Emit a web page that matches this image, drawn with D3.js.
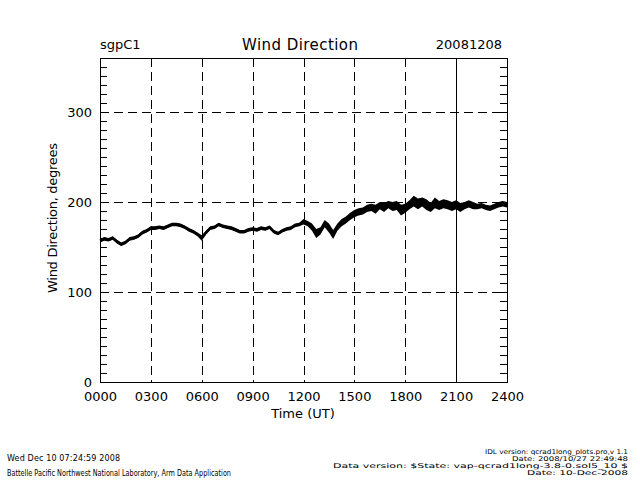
<!DOCTYPE html>
<html>
<head>
<meta charset="utf-8">
<script src="https://cdn.jsdelivr.net/npm/d3@7"></script>
<style>
  html, body { margin: 0; padding: 0; background: #fff; overflow: hidden; }
  svg { display: block; }
  svg text { font-family: "DejaVu Sans", sans-serif; fill: #000; }
  .axis path, .axis line { stroke: #000; shape-rendering: crispEdges; }
  .axis .domain { stroke-width: 1.2; }
</style>
</head>
<body>
<div id="chart"></div>
<script>
// time of day in hours (UT)
const hours = d3.range(0, 24.01, 0.25);

// wind direction, degrees, every quarter hour
const direction = [
  157, 159, 158, 160, 156, 153, 155, 159, 160, 162, 166, 168,
  171, 171, 172, 171, 173, 175, 175, 174, 172, 169, 167, 164,
  160, 166, 171, 172, 175, 173, 172, 171, 169, 167, 167, 169,
  170, 169, 171, 170, 172, 167, 165, 168, 170, 171, 174, 175,
  178, 176, 172, 165, 168, 176, 171, 164, 172, 177, 180, 184,
  187, 189, 190, 193, 194, 192, 196, 194, 197, 195, 196, 191,
  193, 197, 201, 198, 200, 197, 194, 199, 196, 198, 197, 195,
  197, 194, 196, 198, 196, 195, 196, 194, 193, 195, 197, 198,
  197
];

// half-width of the scattered band around the trace, degrees
const spread = [
  2, 2, 2, 2, 2, 2, 2, 2, 2, 2, 2, 2,
  2, 2, 2, 2, 2, 2, 2, 2, 2, 2, 2, 2,
  3, 2, 2, 2, 2, 2, 2, 2, 2, 2, 2, 2,
  2, 2, 2, 2, 2, 2, 2, 2, 2, 2, 2, 2,
  3, 3, 4, 5, 4, 4, 5, 5, 4, 4, 4, 4,
  4, 4, 4, 4, 4, 5, 4, 5, 4, 5, 5, 6,
  5, 5, 6, 6, 5, 6, 5, 6, 5, 5, 5, 5,
  5, 5, 4, 4, 4, 3, 3, 3, 3, 3, 3, 3,
  3
];

const xTicks = [0, 3, 6, 9, 12, 15, 18, 21, 24];
const yTicks = [0, 100, 200, 300];
const yGrid = [100, 200, 300];
const dashedX = [3, 6, 9, 12, 15, 18];
const solidX = [21];

const margin = {top: 58, left: 100},
      innerWidth = 407,
      innerHeight = 324;

const svg = d3.select('#chart').append('svg')
  .attr('width', 640)
  .attr('height', 480);

const plot = svg.append('g')
  .attr('transform', `translate(${margin.left},${margin.top})`);

const x = d3.scaleLinear().domain([0, 24]).range([0, innerWidth]);
const y = d3.scaleLinear().domain([0, 360]).range([innerHeight, 0]);

// grid
plot.selectAll('.vgrid')
  .data(dashedX)
  .enter().append('line')
    .attr('x1', d => Math.round(x(d)) + 0.5).attr('x2', d => Math.round(x(d)) + 0.5)
    .attr('y1', 0).attr('y2', innerHeight)
    .style('stroke', '#000').style('stroke-dasharray', '9,5');

plot.selectAll('.sgrid')
  .data(solidX)
  .enter().append('line')
    .attr('x1', d => Math.round(x(d)) + 0.5).attr('x2', d => Math.round(x(d)) + 0.5)
    .attr('y1', 0).attr('y2', innerHeight)
    .style('stroke', '#000');

plot.selectAll('.hgrid')
  .data(yGrid)
  .enter().append('line')
    .attr('x1', 0).attr('x2', innerWidth - 4)
    .attr('y1', d => Math.round(y(d)) + 0.5).attr('y2', d => Math.round(y(d)) + 0.5)
    .style('stroke', '#000').style('stroke-dasharray', '9,5');

// axes: minor ticks every 10 degrees, labels on the hundreds
const minor = d3.range(0, 361, 10);

plot.append('g').classed('axis', true)
  .call(d3.axisLeft(y).tickValues(minor).tickSize(-7))
  .call(g => g.selectAll('text').remove());

plot.append('g').classed('axis', true)
  .call(d3.axisLeft(y).tickValues(yTicks).tickSize(0).tickPadding(8))
  .call(g => g.select('.domain').remove())
  .call(g => g.selectAll('text').style('font-size', '13px'));

plot.append('g').classed('axis', true)
  .attr('transform', `translate(${innerWidth},0)`)
  .call(d3.axisRight(y).tickValues(minor).tickSize(-7))
  .call(g => g.selectAll('text').remove());

plot.append('g').classed('axis', true)
  .attr('transform', `translate(0,${innerHeight})`)
  .call(d3.axisBottom(x).tickValues(xTicks).tickSize(0).tickPadding(10)
    .tickFormat(d => d3.format('02')(d) + '00'))
  .call(g => g.selectAll('text').style('font-size', '13px'));

plot.append('line')
  .attr('x1', 0).attr('x2', innerWidth).attr('y1', 0.5).attr('y2', 0.5)
  .style('stroke', '#000').style('stroke-width', 1.2);

// data band and trace
const pts = hours.map((h, i) => ({h: h, v: direction[i], s: spread[i]}));

plot.append('path')
  .datum(pts)
  .attr('d', d3.area().x(d => x(d.h)).y0(d => y(d.v - d.s)).y1(d => y(d.v + d.s)))
  .style('fill', '#000');

plot.append('path')
  .datum(pts)
  .attr('d', d3.line().x(d => x(d.h)).y(d => y(d.v)))
  .style('fill', 'none').style('stroke', '#000').style('stroke-width', 2.5);

// titles
svg.append('text').text('sgpC1')
  .attr('x', 100).attr('y', 49).style('font-size', '13px');
svg.append('text').text('Wind Direction')
  .attr('x', 300).attr('y', 50).attr('text-anchor', 'middle')
  .attr('textLength', 116).style('font-size', '15px');
svg.append('text').text('20081208')
  .attr('x', 502).attr('y', 49).attr('text-anchor', 'end').style('font-size', '13px');

svg.append('text').text('Time (UT)')
  .attr('x', 303).attr('y', 418).attr('text-anchor', 'middle').style('font-size', '13px');

svg.append('text').text('Wind Direction, degrees')
  .attr('transform', 'translate(57,218) rotate(-90)')
  .attr('text-anchor', 'middle')
  .attr('textLength', 150).style('font-size', '13px');

// footer
const footLeft = ['Wed Dec 10 07:24:59 2008',
  'Battelle Pacific Northwest National Laboratory, Arm Data Application'];
const footRight = ['IDL version: qcrad1long_plots.pro,v 1.1',
  'Date: 2008/10/27 22:49:48',
  'Data version: $State: vap-qcrad1long-3.8-0.sol5_10 $',
  'Date: 10-Dec-2008'];

svg.append('text').text(footLeft[0])
  .attr('x', 7).attr('y', 461).attr('textLength', 113).style('font-size', '8px');
svg.append('text').text(footLeft[1])
  .attr('x', 7).attr('y', 476).attr('textLength', 224)
  .attr('lengthAdjust', 'spacingAndGlyphs').style('font-size', '8px');

const rightY = [454, 461, 468, 475];
const rightLen = [143, 116, 295, 101];
footRight.forEach((t, i) => {
  svg.append('text').text(t)
    .attr('x', 628).attr('y', rightY[i]).attr('text-anchor', 'end')
    .attr('textLength', rightLen[i]).attr('lengthAdjust', 'spacingAndGlyphs')
    .style('font-size', '6.5px');
});
</script>
</body>
</html>
